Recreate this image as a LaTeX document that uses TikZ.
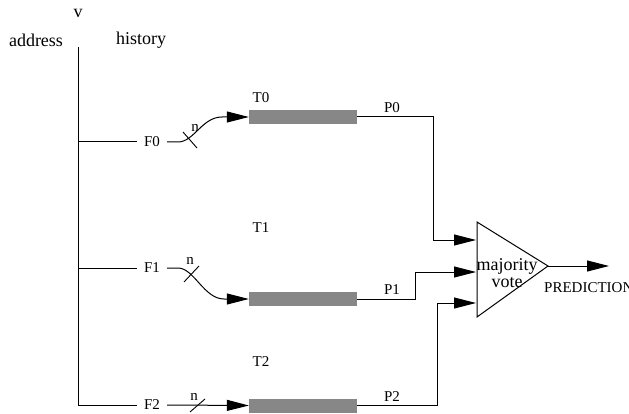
\documentclass[tikz,border=0pt]{standalone}
\usepackage{fontspec}
\setmainfont{Liberation Serif}
\usetikzlibrary{arrows.meta}
\tikzset{
  x=1pt, y=-1pt,
  wire/.style={line width=1pt, line join=miter},
  arr/.style={wire, -{Triangle[length=22pt,width=11pt]}},
  lbl/.style={inner sep=0pt, font=\fontsize{15}{17}\selectfont},
  biglbl/.style={inner sep=0pt, font=\fontsize{18}{20}\selectfont},
  flbl/.style={lbl, inner sep=7pt},
  bar/.style={draw=none, fill=black!47, minimum width=108pt, minimum height=14pt, inner sep=0pt},
  tick/.style={line width=0.9pt},
}
\begin{document}
\begin{tikzpicture}
\useasboundingbox (0,0) rectangle (629,414);

% headings
\node[biglbl] (v) at (78,13) {v};
\node[biglbl] (addr) at (36,40) {address};
\node[biglbl] (hist) at (141,40) {history};

% table inputs
\node[flbl] (F0) at (152,142) {F0};
\node[flbl] (F1) at (152,268) {F1};
\node[flbl] (F2) at (152,405) {F2};

% predictor tables
\node[bar] (B0) at (303,117) {};
\node[bar] (B1) at (303,299) {};
\node[bar] (B2) at (303,405.5) {};
\node[lbl] (T0) at (261,98) {T0};
\node[lbl] (T1) at (261,228) {T1};
\node[lbl] (T2) at (261,362) {T2};

% trunk and branches
\coordinate (top) at (78,47);
\draw[wire] (top) |- (F2.west);
\draw[wire] (78,142) -- (F0.west);
\draw[wire] (78,268) -- (F1.west);

% index paths into the tables
\draw[arr] (F0.east) -- (178,142) .. controls (194,142) and (202,117) .. (222,117) -- (B0.west);
\draw[arr] (F1.east) -- (178,268) .. controls (194,268) and (204,299) .. (224,299) -- (B1.west);
\draw[arr] (F2.east) -- (B2.west);

% bus-width ticks
\coordinate (t0a) at (183,132); \coordinate (t0b) at (197,148);
\coordinate (t1a) at (199,266); \coordinate (t1b) at (184,282);
\coordinate (t2a) at (205,399); \coordinate (t2b) at (190,412);
\draw[tick] (t0a) -- (t0b);
\draw[tick] (t1a) -- (t1b);
\draw[tick] (t2a) -- (t2b);
\node[lbl] (n0) at (195,128) {n};
\node[lbl] (n1) at (190,261) {n};
\node[lbl] (n2) at (194,397) {n};

% majority vote
\coordinate (tA) at (477,222);
\coordinate (tB) at (477,317);
\coordinate (tC) at (548,266);
\draw[wire] (tA) -- (tC) -- (tB) -- cycle;
\node[biglbl, align=center, font=\fontsize{18}{17.5}\selectfont] (mv) at (507,273) {majority\\vote};

\coordinate (in0) at (476,240);
\coordinate (in1) at (476,272);
\coordinate (in2) at (476,303);
\coordinate (k0) at (433,240);
\coordinate (k1) at (415,272);
\coordinate (k2) at (437,303);
\draw[wire] (B0.east) -| (k0);
\draw[arr] (k0) -- (in0);
\draw[wire] (B1.east) -| (k1);
\draw[arr] (k1) -- (in1);
\draw[wire] (B2.east) -| (k2);
\draw[arr] (k2) -- (in2);
\node[lbl] (P0) at (392,108) {P0};
\node[lbl] (P1) at (392,290) {P1};
\node[lbl] (P2) at (392,397) {P2};

% output
\coordinate (out) at (609,266);
\draw[arr] (tC) -- (out);
\node[lbl, anchor=west] (pred) at (544,288) {PREDICTION};
\end{tikzpicture}
\end{document}
